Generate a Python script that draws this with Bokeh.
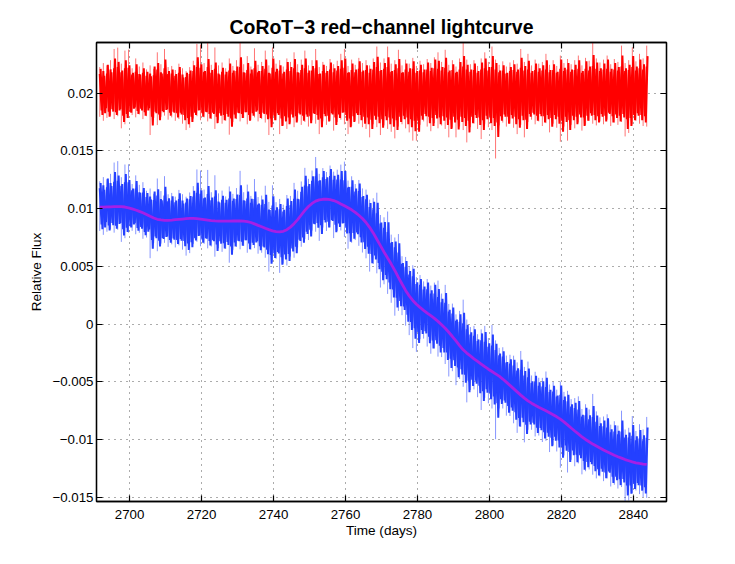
import numpy as np

from bokeh.embed import file_html
from bokeh.models import FixedTicker, LinearAxis, Range1d
from bokeh.plotting import figure
from bokeh.resources import INLINE

start_day = 2691.7

# smooth fit through the blue curve, one value per day
trend = [1012, 1013, 1015, 1016, 1017, 1017, 1017, 1014, 1007, 998,
         988, 976, 964, 950, 934, 919, 908, 902, 899, 899,
         901, 904, 907, 910, 913, 915, 915, 913, 909, 905,
         901, 897, 894, 892, 891, 891, 892, 893, 893, 893,
         892, 888, 880, 868, 855, 843, 830, 818, 807, 801,
         799, 804, 818, 840, 870, 905, 945, 985, 1018, 1045,
         1065, 1076, 1081, 1082, 1078, 1070, 1057, 1041, 1025, 1008,
         990, 968, 943, 915, 880, 838, 790, 735, 680, 625,
         572, 520, 465, 405, 348, 292, 245, 205, 172, 145,
         120, 96, 74, 50, 24, -5, -35, -70, -107, -145,
         -185, -222, -250, -275, -300, -322, -345, -368, -390, -410,
         -430, -450, -475, -502, -530, -558, -586, -614, -640, -664,
         -684, -702, -719, -735, -750, -767, -784, -802, -822, -846,
         -872, -899, -925, -950, -975, -998, -1018, -1038, -1055, -1072,
         -1089, -1105, -1120, -1135, -1148, -1160, -1172, -1182, -1192, -1200,
         -1206, -1211, -1214]

# scatter about the fit: spike tips and the two dense sweeps
spike_top = [225, 260, 240, 285, 382, 394, 255, 368, 377, 215,
             300, 230, 265, 205, 240, 210, 353, 250, 382, 225,
             235, 200, 255, 215, 190, 225, 280, 426, 420, 260,
             434, 245, 395, 240, 265, 215, 300, 235, 285, 434,
             250, 320, 230, 388, 245, 270, 368, 240, 395, 255,
             285, 230, 300, 270, 353, 250, 290, 368, 240, 285,
             382, 225, 270, 235, 295, 250, 280, 340, 382, 235,
             290, 245, 305, 260, 285, 240, 300, 403, 265, 300,
             403, 255, 285, 375, 240, 290, 255, 305, 235, 280,
             250, 295, 260, 310, 353, 270, 375, 245, 285, 230,
             300, 434, 290, 250, 285, 235, 300, 353, 270, 403,
             290, 245, 275, 230, 265, 285, 255, 382, 270, 340,
             240, 290, 255, 270, 340, 245, 285, 235, 325, 260,
             295, 250, 285, 325, 240, 305, 280, 434, 300, 265,
             290, 325, 250, 295, 270, 411, 260, 285, 397, 275,
             340, 300, 411]

spike_bottom = [-205, -240, -215, -195, -225, -200, -305, -270, -215, -190,
                -210, -185, -225, -200, -363, -215, -277, -205, -195, -230,
                -210, -240, -225, -265, -320, -300, -220, -200, -235, -210,
                -245, -225, -310, -235, -265, -240, -360, -250, -225, -245,
                -215, -270, -235, -210, -245, -225, -255, -363, -270, -235,
                -355, -280, -310, -255, -295, -240, -275, -250, -290, -235,
                -265, -355, -245, -275, -240, -325, -250, -230, -270, -355,
                -285, -240, -265, -295, -310, -383, -270, -295, -363, -280,
                -310, -335, -392, -290, -270, -305, -340, -412, -412, -275,
                -245, -290, -330, -260, -305, -280, -310, -383, -300, -383,
                -290, -320, -427, -295, -265, -310, -398, -270, -295, -320,
                -566, -280, -255, -290, -265, -300, -355, -275, -383, -250,
                -230, -270, -245, -285, -260, -340, -265, -300, -421, -290,
                -412, -275, -305, -255, -325, -275, -240, -265, -280, -245,
                -270, -230, -285, -255, -275, -250, -375, -345, -270, -240,
                -265, -285, -290]

band_top = [165, 190, 170, 205, 215, 225, 180, 215, 220, 160,
            185, 165, 175, 150, 170, 155, 205, 180, 215, 165,
            170, 150, 175, 160, 140, 165, 190, 225, 220, 185,
            225, 175, 210, 170, 185, 160, 195, 175, 190, 225,
            180, 200, 170, 215, 180, 190, 210, 175, 220, 185,
            195, 170, 205, 190, 215, 180, 200, 215, 175, 195,
            215, 165, 190, 175, 205, 180, 195, 210, 220, 175,
            200, 180, 210, 185, 200, 175, 205, 225, 190, 210,
            225, 185, 200, 215, 175, 205, 185, 210, 175, 195,
            180, 205, 190, 215, 210, 195, 220, 180, 200, 175,
            205, 230, 205, 185, 200, 175, 205, 215, 195, 225,
            205, 180, 195, 170, 190, 200, 185, 220, 195, 205,
            175, 200, 185, 195, 205, 180, 200, 175, 210, 190,
            205, 185, 200, 210, 175, 210, 195, 235, 210, 190,
            205, 210, 185, 205, 195, 230, 190, 200, 225, 195,
            215, 205, 230]

band_bottom = [-150, -175, -160, -140, -165, -150, -195, -180, -160, -135,
               -155, -135, -165, -150, -205, -160, -185, -155, -145, -170,
               -160, -175, -170, -190, -215, -205, -170, -150, -175, -160,
               -180, -170, -205, -175, -190, -180, -220, -185, -170, -180,
               -165, -190, -175, -160, -180, -170, -185, -220, -195, -175,
               -220, -200, -210, -185, -200, -175, -195, -185, -200, -175,
               -190, -220, -180, -195, -175, -210, -185, -170, -190, -220,
               -200, -175, -190, -205, -210, -230, -195, -205, -225, -200,
               -210, -220, -235, -205, -195, -210, -225, -240, -240, -195,
               -180, -205, -215, -190, -210, -200, -210, -230, -205, -230,
               -205, -215, -240, -205, -190, -210, -235, -195, -205, -215,
               -255, -200, -185, -205, -190, -205, -225, -195, -230, -180,
               -170, -195, -180, -200, -190, -215, -190, -205, -240, -205,
               -235, -195, -205, -185, -210, -195, -175, -190, -200, -180,
               -195, -170, -200, -185, -195, -180, -225, -215, -190, -175,
               -190, -200, -205]

band2_top = [210, 150, 245, 180, 300, 270, 195, 285, 240, 175,
             250, 160, 215, 185, 145, 230, 260, 170, 290, 190,
             205, 165, 225, 135, 175, 195, 240, 310, 250, 190,
             295, 200, 265, 160, 220, 185, 255, 195, 230, 310,
             175, 260, 205, 280, 190, 235, 290, 170, 300, 210,
             240, 185, 270, 225, 295, 175, 245, 300, 195, 235,
             285, 170, 245, 190, 265, 215, 235, 285, 300, 180,
             255, 205, 275, 195, 240, 210, 270, 315, 200, 260,
             310, 190, 250, 295, 180, 255, 215, 275, 190, 245,
             205, 265, 220, 290, 280, 225, 305, 195, 250, 185,
             270, 320, 245, 205, 255, 190, 265, 300, 225, 320,
             260, 195, 240, 175, 225, 250, 205, 305, 235, 280,
             190, 255, 215, 240, 285, 200, 250, 185, 290, 220,
             260, 205, 245, 285, 190, 275, 230, 330, 265, 215,
             255, 290, 210, 260, 225, 325, 215, 245, 320, 230,
             290, 250, 320]

band2_bottom = [-190, -130, -205, -160, -190, -140, -250, -215, -170, -125,
                -180, -150, -195, -130, -280, -175, -235, -165, -140, -195,
                -170, -210, -185, -235, -270, -250, -190, -145, -205, -165,
                -220, -180, -260, -195, -235, -205, -290, -220, -175, -215,
                -165, -240, -195, -150, -215, -180, -225, -295, -235, -190,
                -285, -245, -270, -210, -255, -185, -240, -205, -260, -180,
                -230, -295, -200, -245, -185, -275, -215, -165, -240, -295,
                -250, -190, -235, -265, -270, -310, -230, -260, -300, -235,
                -270, -290, -320, -250, -225, -270, -295, -330, -335, -230,
                -200, -260, -285, -220, -270, -240, -275, -310, -255, -315,
                -250, -285, -340, -260, -215, -275, -320, -225, -260, -285,
                -380, -240, -205, -265, -220, -270, -300, -235, -310, -205,
                -185, -240, -200, -255, -225, -290, -225, -265, -335, -250,
                -320, -235, -270, -210, -285, -240, -195, -235, -255, -205,
                -245, -180, -255, -215, -245, -210, -310, -285, -235, -195,
                -235, -255, -260]

red_offset = 2000

x_ticks = [2700, 2720, 2740, 2760, 2780, 2800, 2820, 2840]
y_ticks = [-0.015, -0.01, -0.005, 0, 0.005, 0.01, 0.015, 0.02]
y_tick_labels = ["\u22120.015", "\u22120.01", "\u22120.005", "0", "0.005", "0.01", "0.015", "0.02"]

RED = "#ff0000"
BLUE = "#2440ff"
FIT = "#a61fe6"
FONT = "Liberation Sans"

days = start_day + np.arange(len(trend))
fit = np.array(trend) * 1e-5
top = np.array(spike_top) * 1e-5
bottom = np.array(spike_bottom) * 1e-5
red_level = red_offset * 1e-5


def sweep(shift, highs, lows):
    # up and down through the scatter, half a day apart
    xs = np.column_stack([days + shift, days + shift + 0.5]).ravel()
    hi = np.array(highs) * 1e-5
    lo = np.array(lows) * 1e-5
    ys = np.column_stack([hi, lo]).ravel()
    return xs[:-1], ys[:-1], np.repeat(np.arange(len(days)), 2)[:-1]


p = figure(width=698, height=549, output_backend="svg", toolbar_location=None,
           x_range=Range1d(2690.8, 2849.2), y_range=Range1d(-0.01535, 0.02438),
           min_border_left=96, min_border_right=32, min_border_top=42, min_border_bottom=48,
           title="CoRoT\u22123 red\u2212channel lightcurve", background_fill_color="white")
p.title.align = "center"
p.title.text_font = FONT
p.title.text_font_size = "19.4px"
p.title.text_color = "black"
p.title.offset = 0
p.title.standoff = 10
p.outline_line_color = "black"
p.outline_line_width = 1.3

for ax in [p.xaxis[0], p.yaxis[0]]:
    ax.axis_line_color = "black"
    ax.axis_line_width = 1.3
    ax.major_tick_in = 6
    ax.major_tick_out = 0
    ax.major_tick_line_width = 1.2
    ax.minor_tick_line_color = None
    ax.major_label_text_font = FONT
    ax.major_label_text_font_size = "13.3px"
    ax.major_label_text_color = "black"
    ax.axis_label_text_font = FONT
    ax.axis_label_text_font_size = "13.6px"
    ax.axis_label_text_font_style = "normal"
    ax.axis_label_text_color = "black"

p.xaxis[0].ticker = FixedTicker(ticks=x_ticks)
p.yaxis[0].ticker = FixedTicker(ticks=y_ticks)
p.yaxis[0].major_label_overrides = dict(zip(y_ticks, y_tick_labels))
p.xaxis[0].axis_label = "Time (days)"
p.yaxis[0].axis_label = "Relative Flux"
p.xaxis[0].major_label_standoff = 8
p.yaxis[0].major_label_standoff = 3
p.xaxis[0].axis_label_standoff = 1
p.yaxis[0].axis_label_standoff = 5

# tick marks on the top and right sides too, no labels there
top_axis = LinearAxis(ticker=FixedTicker(ticks=x_ticks),
                      major_label_overrides={t: "" for t in x_ticks},
                      major_tick_in=6, major_tick_out=0, major_tick_line_width=1.2,
                      minor_tick_line_color=None, axis_line_color="black", axis_line_width=1.3)
right_axis = LinearAxis(ticker=FixedTicker(ticks=y_ticks),
                        major_label_overrides={t: "" for t in y_ticks},
                        major_tick_in=6, major_tick_out=0, major_tick_line_width=1.2,
                        minor_tick_line_color=None, axis_line_color="black", axis_line_width=1.3)
p.add_layout(top_axis, "above")
p.add_layout(right_axis, "right")

p.xgrid.ticker = FixedTicker(ticks=x_ticks)
p.ygrid.ticker = FixedTicker(ticks=y_ticks)
p.grid.grid_line_color = "black"
p.grid.grid_line_dash = "1 5"
p.grid.grid_line_width = 1
p.grid.grid_line_alpha = 0.65

# red: the scatter about the fit, moved up to the 0.02 level
p.segment(days, red_level + bottom, days, red_level + top,
          line_color=RED, line_width=1, line_alpha=0.55)
xs, ys, idx = sweep(0.0, band_top, band_bottom)
p.line(xs, red_level + ys, line_color=RED, line_width=2)
xs, ys, idx = sweep(0.25, band2_top, band2_bottom)
p.line(xs, red_level + ys, line_color=RED, line_width=2)

# blue: the same scatter on top of the fit
p.segment(days, fit + bottom, days, fit + top,
          line_color=BLUE, line_width=1, line_alpha=0.55)
xs, ys, idx = sweep(0.0, band_top, band_bottom)
p.line(xs, fit[idx] + ys, line_color=BLUE, line_width=2)
xs, ys, idx = sweep(0.25, band2_top, band2_bottom)
p.line(xs, fit[idx] + ys, line_color=BLUE, line_width=2)
p.line(days, fit, line_color=FIT, line_width=2.8)

open("out.html", "w").write(file_html(p, INLINE))
